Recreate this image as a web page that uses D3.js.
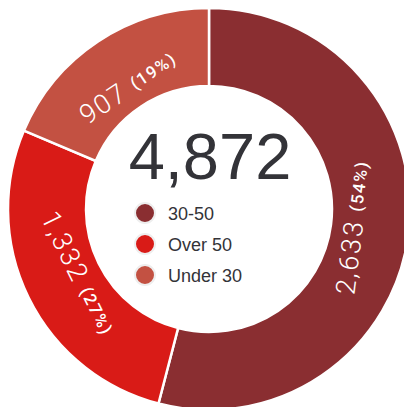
<!DOCTYPE html>
<html lang="en">
<head>
    <meta charset="UTF-8">
    <title>Donut</title>
    <style>
        body { margin: 0; background: #fff; }
        svg { display: block; }
        text { font-family: "Helvetica Neue", Helvetica, "Liberation Sans", Arial, sans-serif; }
        text.slice { font-family: Roboto, "Liberation Sans", sans-serif; }
    </style>
    <script src="https://d3js.org/d3.v7.min.js"></script>
</head>
<body>
    <svg width="404" height="407"></svg>
    <script>
        const categories = ['30-50', 'Over 50', 'Under 30'];
        const counts = [2633, 1332, 907];
        const colors = ['#8a2e31', '#d91b17', '#c35142'];

        const svg = d3.select("svg");
        const cx = 209, cy = 209;
        const outerR = 201, innerR = 123;

        const data = categories.map((c, i) => ({ name: c, value: counts[i] }));
        const total = d3.sum(counts);
        const fmt = d3.format(",");

        const color = d3.scaleOrdinal().domain(categories).range(colors);

        const pie = d3.pie().value(d => d.value).sort(null);
        const arc = d3.arc().innerRadius(innerR).outerRadius(outerR);
        const labelArc = d3.arc().innerRadius(146).outerRadius(146);

        const g = svg.append("g").attr("transform", `translate(${cx},${cy})`);
        const arcs = pie(data);

        g.selectAll("path")
            .data(arcs)
            .enter().append("path")
            .attr("d", arc)
            .attr("fill", d => color(d.data.name))
            .attr("stroke", "#fff")
            .attr("stroke-width", 2.5);

        // labels follow the ring, kept upright
        const label = g.selectAll("text.slice")
            .data(arcs)
            .enter().append("text")
            .attr("class", "slice")
            .attr("text-anchor", "middle")
            .attr("dominant-baseline", "central")
            .attr("fill", "#fff")
            .attr("transform", d => {
                const [x, y] = labelArc.centroid(d);
                let deg = (d.startAngle + d.endAngle) / 2 * 180 / Math.PI;
                let rot = (deg > 90 && deg < 270) ? deg - 180 : deg;
                return `translate(${x},${y}) rotate(${rot})`;
            });
        label.append("tspan")
            .attr("font-size", 27)
            .attr("font-weight", 300)
            .attr("letter-spacing", 2)
            .text(d => fmt(d.data.value) + " ");
        label.append("tspan")
            .attr("font-size", 17)
            .attr("font-weight", 500)
            .attr("letter-spacing", 1.5)
            .text(d => "(" + Math.round(d.data.value / total * 100) + "%)");

        // total in the middle
        svg.append("text")
            .attr("x", cx + 1)
            .attr("y", 179)
            .attr("text-anchor", "middle")
            .attr("font-size", 65)
            .attr("fill", "#333338")
            .text(fmt(total));

        const legend = svg.append("g")
            .selectAll("g")
            .data(categories)
            .enter().append("g")
            .attr("transform", (d, i) => `translate(145,${213 + i * 31})`);

        legend.append("circle")
            .attr("r", 10)
            .attr("fill", d => color(d))
            .attr("stroke", "#eeeeee")
            .attr("stroke-width", 2);

        legend.append("text")
            .attr("x", 23)
            .attr("y", 7)
            .attr("font-size", 18)
            .attr("fill", "#333338")
            .text(d => d);
    </script>
</body>
</html>
